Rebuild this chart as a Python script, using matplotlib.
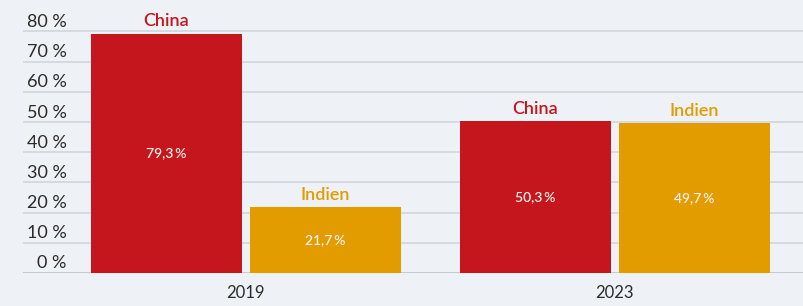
"""
Bar chart: share China vs. Indien, 2019 and 2023.
"""

import numpy as np
import matplotlib
matplotlib.use("Agg")
import matplotlib.pyplot as plt
from matplotlib.transforms import ScaledTranslation

years = ["2019", "2023"]
countries = ["China", "Indien"]
china = [79.3, 50.3]
indien = [21.7, 49.7]
yticks = [0, 10, 20, 30, 40, 50, 60, 70, 80]

RED = "#c4161c"
ORANGE = "#e39c00"
BG = "#eef1f5"
FONT = ["Lato", "DejaVu Sans"]

plt.rcParams["font.family"] = FONT

fig = plt.figure(figsize=(8.04, 3.06), dpi=100, facecolor=BG)
ax = fig.add_axes([23 / 804, 33 / 306, 781 / 804, 273 / 306])
ax.set_facecolor("none")

x = np.arange(len(years))
width = 0.409
off = 0.2155

fmt = lambda v: f"{v:.1f}".replace(".", ",") + "\u2009%"

bars_c = ax.bar(x - off, china, width, color=RED, zorder=3)
bars_i = ax.bar(x + off, indien, width, color=ORANGE, zorder=3)

for bars, vals, name, col in [(bars_c, china, countries[0], RED),
                              (bars_i, indien, countries[1], ORANGE)]:
    ax.bar_label(bars, labels=[fmt(v) for v in vals], label_type="center",
                 color="#fbeee8", fontsize=10, fontweight="semibold")
    ax.bar_label(bars, labels=[name] * len(vals), padding=3,
                 color=col, fontsize=13, fontweight="semibold")

ax.set_xlim(-0.604, 1.513)
ax.set_ylim(0, 90.4)

ax.set_xticks(x, years)
ax.tick_params(axis="x", length=0, pad=9, labelsize=12, labelcolor="#2b2b2b")

ax.set_yticks(yticks, [f"{t} %" for t in yticks])
ax.tick_params(axis="y", length=0, pad=-31.5, labelsize=13, labelcolor="#2b2b2b")
shift = ScaledTranslation(0, 11 / 100, fig.dpi_scale_trans)
for lab in ax.get_yticklabels():
    lab.set_horizontalalignment("right")
    lab.set_transform(lab.get_transform() + shift)

ax.grid(axis="y", color="#cfd4da", linewidth=1.1, zorder=0)
for s in ax.spines.values():
    s.set_visible(False)
ax.axhline(0, color="#c4c9cf", linewidth=1.3, zorder=2)

fig.savefig("out.png", dpi=100, facecolor=BG)
